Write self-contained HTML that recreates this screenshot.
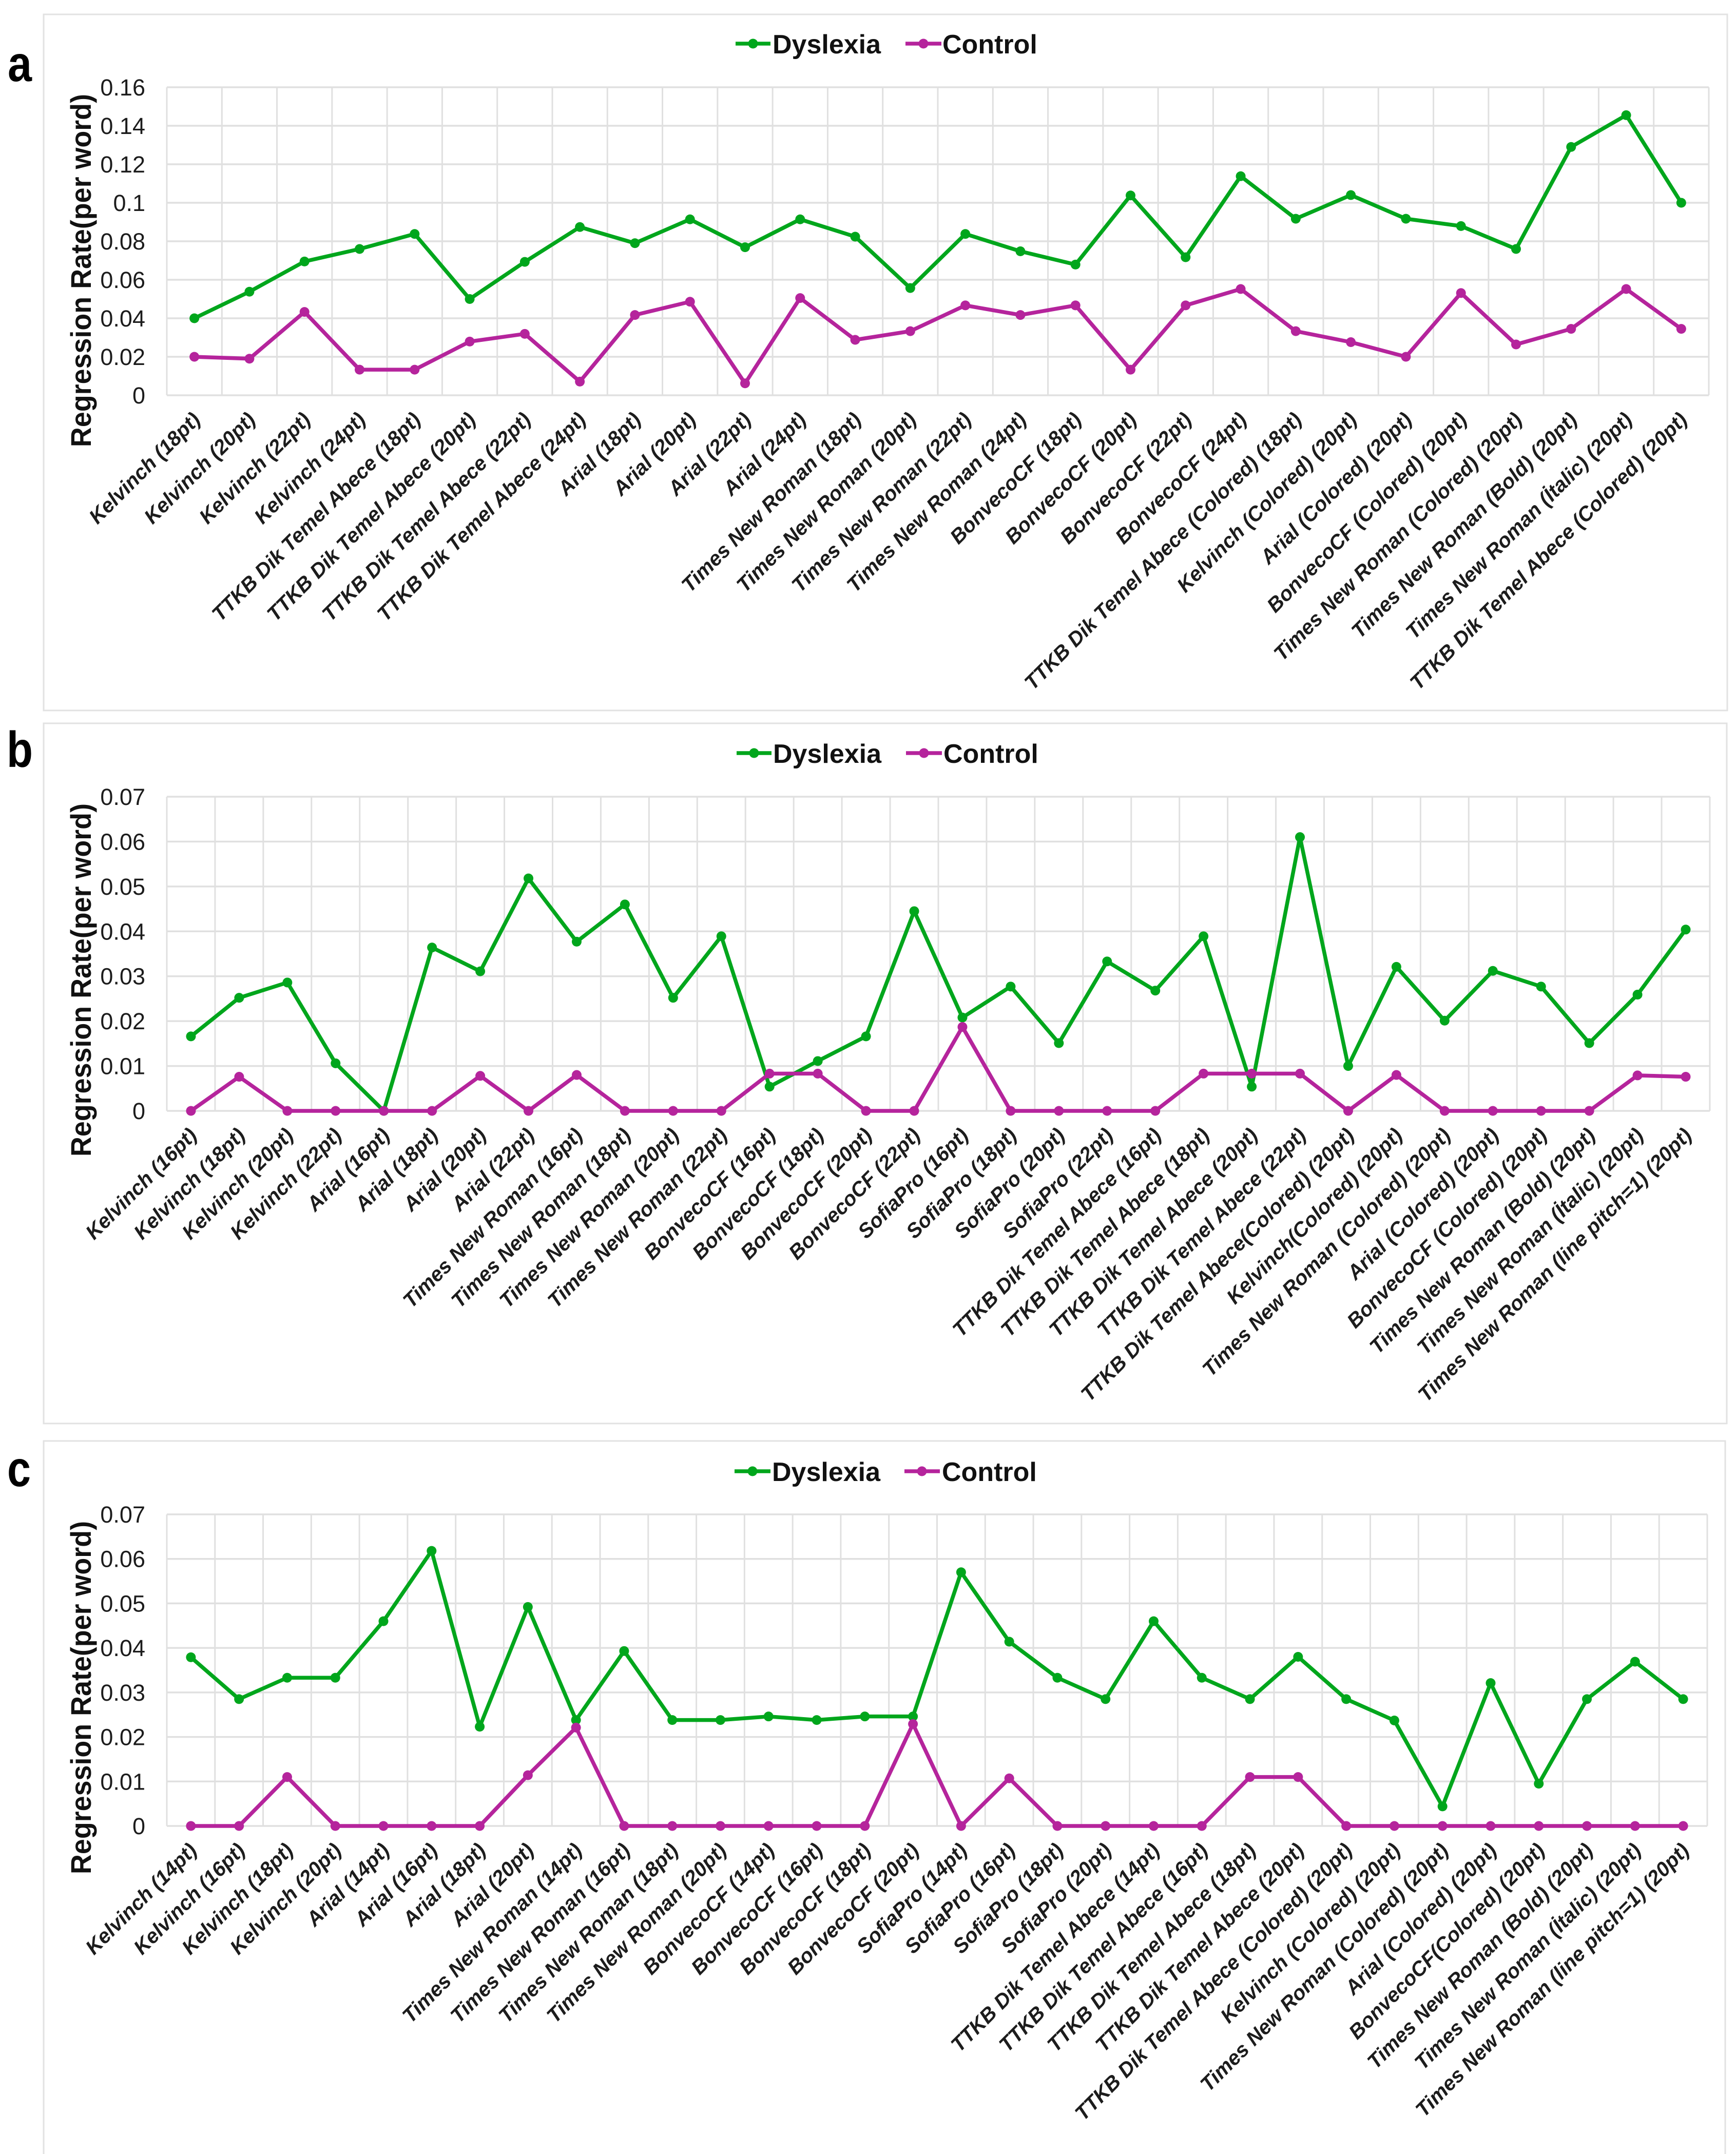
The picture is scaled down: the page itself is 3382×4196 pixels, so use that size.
<!DOCTYPE html>
<html lang="en">
<head>
<meta charset="utf-8">
<title>Regression rate per word by font: Dyslexia vs Control</title>
<style>
html,body{margin:0;padding:0;background:#fff;}
svg{display:block;font-family:"Liberation Sans",sans-serif;}
.frame{fill:#fff;stroke:#e2e2e2;stroke-width:3;}
.legend-text{font-size:52px;font-weight:700;fill:#111;}
.panel-letter{font-size:98px;font-weight:700;fill:#000;}
.y-title{font-size:56px;font-weight:700;fill:#111;}
.tick{font-size:45px;fill:#1c1c1c;}
.cat{font-size:40px;font-weight:700;font-style:italic;fill:#1c1c1c;}
</style>
</head>
<body>
<svg id="chart" xmlns="http://www.w3.org/2000/svg" width="3382" height="4196" viewBox="0 0 3382 4196">
  <rect x="0" y="0" width="3382" height="4196" fill="#fff"/>
  <rect class="frame" x="85" y="28" width="3280" height="1356"/>
  <rect class="frame" x="85" y="1409" width="3279" height="1364"/>
  <rect class="frame" x="85" y="2807" width="3276" height="1420"/>

  <text class="panel-letter" x="15" y="158" textLength="47" lengthAdjust="spacingAndGlyphs">a</text>
  <text class="panel-letter" x="13" y="1494" textLength="51" lengthAdjust="spacingAndGlyphs">b</text>
  <text class="panel-letter" x="14" y="2895" textLength="46" lengthAdjust="spacingAndGlyphs">c</text>

  <text class="y-title" transform="translate(177,527) rotate(-90)" text-anchor="middle" textLength="688" lengthAdjust="spacingAndGlyphs">Regression Rate(per word)</text>
  <text class="y-title" transform="translate(177,1909) rotate(-90)" text-anchor="middle" textLength="688" lengthAdjust="spacingAndGlyphs">Regression Rate(per word)</text>
  <text class="y-title" transform="translate(177,3307) rotate(-90)" text-anchor="middle" textLength="688" lengthAdjust="spacingAndGlyphs">Regression Rate(per word)</text>

  <g id="plots"></g>

  <g>
    <g>
      <line x1="1433" y1="85" x2="1501" y2="85" stroke="#00a61c" stroke-width="7.5"/>
      <circle cx="1467" cy="85" r="9.5" fill="#00a61c"/>
      <text class="legend-text" x="1505" y="104">Dyslexia</text>
    </g>
    <g>
      <line x1="1764" y1="85" x2="1834" y2="85" stroke="#b5249c" stroke-width="7.5"/>
      <circle cx="1799" cy="85" r="9.5" fill="#b5249c"/>
      <text class="legend-text" x="1836" y="104">Control</text>
    </g>
  </g>
  <g>
    <g>
      <line x1="1435" y1="1467" x2="1503" y2="1467" stroke="#00a61c" stroke-width="7.5"/>
      <circle cx="1469" cy="1467" r="9.5" fill="#00a61c"/>
      <text class="legend-text" x="1506" y="1486">Dyslexia</text>
    </g>
    <g>
      <line x1="1765" y1="1467" x2="1835" y2="1467" stroke="#b5249c" stroke-width="7.5"/>
      <circle cx="1800" cy="1467" r="9.5" fill="#b5249c"/>
      <text class="legend-text" x="1838" y="1486">Control</text>
    </g>
  </g>
  <g>
    <g>
      <line x1="1431" y1="2866" x2="1501" y2="2866" stroke="#00a61c" stroke-width="7.5"/>
      <circle cx="1466" cy="2866" r="9.5" fill="#00a61c"/>
      <text class="legend-text" x="1504" y="2885">Dyslexia</text>
    </g>
    <g>
      <line x1="1762" y1="2866" x2="1831" y2="2866" stroke="#b5249c" stroke-width="7.5"/>
      <circle cx="1796" cy="2866" r="9.5" fill="#b5249c"/>
      <text class="legend-text" x="1835" y="2885">Control</text>
    </g>
  </g>
</svg>
<script>
const categoriesA = ["Kelvinch (18pt)","Kelvinch (20pt)","Kelvinch (22pt)","Kelvinch (24pt)","TTKB Dik Temel Abece (18pt)","TTKB Dik Temel Abece (20pt)","TTKB Dik Temel Abece (22pt)","TTKB Dik Temel Abece (24pt)","Arial (18pt)","Arial (20pt)","Arial (22pt)","Arial (24pt)","Times New Roman (18pt)","Times New Roman (20pt)","Times New Roman (22pt)","Times New Roman (24pt)","BonvecoCF (18pt)","BonvecoCF (20pt)","BonvecoCF (22pt)","BonvecoCF (24pt)","TTKB Dik Temel Abece (Colored) (18pt)","Kelvinch (Colored) (20pt)","Arial (Colored) (20pt)","BonvecoCF (Colored) (20pt)","Times New Roman (Colored) (20pt)","Times New Roman (Bold) (20pt)","Times New Roman (İtalic) (20pt)","TTKB Dik Temel Abece (Colored) (20pt)"];
const dyslexiaA = [0.040,0.0538,0.0695,0.076,0.0838,0.050,0.0693,0.0874,0.079,0.0914,0.0769,0.0914,0.0824,0.0557,0.0838,0.0748,0.0679,0.1038,0.0717,0.1138,0.0917,0.104,0.0917,0.0879,0.076,0.129,0.1455,0.100];
const controlA = [0.020,0.019,0.0433,0.0133,0.0133,0.0279,0.0319,0.0071,0.0417,0.0486,0.0062,0.0505,0.0288,0.0333,0.0467,0.0417,0.0467,0.0133,0.0467,0.0552,0.0333,0.0276,0.020,0.0531,0.0264,0.0345,0.0552,0.0345];
const tickLabelsA = ["0","0.02","0.04","0.06","0.08","0.1","0.12","0.14","0.16"];

const categoriesB = ["Kelvinch (16pt)","Kelvinch (18pt)","Kelvinch (20pt)","Kelvinch (22pt)","Arial (16pt)","Arial (18pt)","Arial (20pt)","Arial (22pt)","Times New Roman (16pt)","Times New Roman (18pt)","Times New Roman (20pt)","Times New Roman (22pt)","BonvecoCF (16pt)","BonvecoCF (18pt)","BonvecoCF (20pt)","BonvecoCF (22pt)","SofiaPro (16pt)","SofiaPro (18pt)","SofiaPro (20pt)","SofiaPro (22pt)","TTKB Dik Temel Abece (16pt)","TTKB Dik Temel Abece (18pt)","TTKB Dik Temel Abece (20pt)","TTKB Dik Temel Abece (22pt)","TTKB Dik Temel Abece(Colored) (20pt)","Kelvinch(Colored) (20pt)","Times New Roman (Colored) (20pt)","Arial (Colored) (20pt)","BonvecoCF (Colored) (20pt)","Times New Roman (Bold) (20pt)","Times New Roman (İtalic) (20pt)","Times New Roman (line pitch=1) (20pt)"];
const dyslexiaB = [0.0166,0.0252,0.0286,0.0106,0,0.0364,0.0311,0.0518,0.0377,0.046,0.0252,0.0389,0.0054,0.0111,0.0166,0.0445,0.0208,0.0277,0.0151,0.0333,0.0268,0.0389,0.0054,0.061,0.010,0.0321,0.0201,0.0312,0.0277,0.0151,0.0259,0.0404];
const controlB = [0,0.0076,0,0,0,0,0.0078,0,0.008,0,0,0,0.0083,0.0083,0,0,0.0187,0,0,0,0,0.0083,0.0083,0.0083,0,0.008,0,0,0,0,0.0079,0.0076];
const tickLabelsB = ["0","0.01","0.02","0.03","0.04","0.05","0.06","0.07"];

const categoriesC = ["Kelvinch (14pt)","Kelvinch (16pt)","Kelvinch (18pt)","Kelvinch (20pt)","Arial (14pt)","Arial (16pt)","Arial (18pt)","Arial (20pt)","Times New Roman (14pt)","Times New Roman (16pt)","Times New Roman (18pt)","Times New Roman (20pt)","BonvecoCF (14pt)","BonvecoCF (16pt)","BonvecoCF (18pt)","BonvecoCF (20pt)","SofiaPro (14pt)","SofiaPro (16pt)","SofiaPro (18pt)","SofiaPro (20pt)","TTKB Dik Temel Abece (14pt)","TTKB Dik Temel Abece (16pt)","TTKB Dik Temel Abece (18pt)","TTKB Dik Temel Abece (20pt)","TTKB Dik Temel Abece (Colored) (20pt)","Kelvinch (Colored) (20pt)","Times New Roman (Colored) (20pt)","Arial (Colored) (20pt)","BonvecoCF(Colored) (20pt)","Times New Roman (Bold) (20pt)","Times New Roman (İtalic) (20pt)","Times New Roman (line pitch=1) (20pt)"];
const dyslexiaC = [0.0379,0.0285,0.0333,0.0333,0.046,0.0618,0.0223,0.0492,0.0238,0.0393,0.0238,0.0238,0.0246,0.0238,0.0246,0.0246,0.057,0.0414,0.0333,0.0285,0.046,0.0333,0.0285,0.038,0.0285,0.0237,0.0044,0.0321,0.0095,0.0285,0.0369,0.0285];
const controlC = [0,0,0.011,0,0,0,0,0.0114,0.0221,0,0,0,0,0,0,0.0229,0,0.0107,0,0,0,0,0.011,0.011,0,0,0,0,0,0,0,0];
const tickLabelsC = ["0","0.01","0.02","0.03","0.04","0.05","0.06","0.07"];

const SVG_NS = "http://www.w3.org/2000/svg";
const GREEN = "#00a61c";
const MAGENTA = "#b5249c";
const GRID = "#e0e0e0";

function drawPanel(id, categories, dyslexia, control, tickLabels, left, right, top, bottom) {
  const root = document.getElementById("plots");
  const g = document.createElementNS(SVG_NS, "g");
  
  
  root.appendChild(g);

  const ticks = tickLabels.map(Number);
  const yMax = Math.max.apply(null, ticks);
  const step = (right - left) / categories.length;
  const xEdge = function (i) { return left + i * step; };
  const xScale = function (i) { return left + (i + 0.5) * step; };
  const yScale = function (v) { return bottom - (v / yMax) * (bottom - top); };

  // horizontal gridlines and y tick labels
  tickLabels.forEach(function (label, i) {
    const y = yScale(ticks[i]);
    const line = document.createElementNS(SVG_NS, "line");
    line.setAttribute("x1", left);
    line.setAttribute("x2", right);
    line.setAttribute("y1", y);
    line.setAttribute("y2", y);
    line.setAttribute("stroke", GRID);
    line.setAttribute("stroke-width", "3.5");
    
    
    g.appendChild(line);

    const t = document.createElementNS(SVG_NS, "text");
    t.setAttribute("x", 283);
    t.setAttribute("y", y + 16);
    t.setAttribute("text-anchor", "end");
    t.setAttribute("class", "tick");
    
    
    t.textContent = label;
    g.appendChild(t);
  });

  // vertical gridlines
  for (let i = 0; i <= categories.length; i++) {
    const v = document.createElementNS(SVG_NS, "line");
    v.setAttribute("x1", xEdge(i));
    v.setAttribute("x2", xEdge(i));
    v.setAttribute("y1", top);
    v.setAttribute("y2", bottom);
    v.setAttribute("stroke", GRID);
    v.setAttribute("stroke-width", "3");
    
    
    g.appendChild(v);
  }

  // category labels
  categories.forEach(function (label, i) {
    const t = document.createElementNS(SVG_NS, "text");
    const ax = xScale(i) + 14;
    const ay = bottom + 50;
    t.setAttribute("transform", "translate(" + ax + "," + ay + ") rotate(-45)");
    t.setAttribute("text-anchor", "end");
    t.setAttribute("class", "cat");
    
    
    t.textContent = label;
    g.appendChild(t);
  });

  // series
  drawSeries(g, "dyslexia", dyslexia, GREEN, xScale, yScale);
  drawSeries(g, "control", control, MAGENTA, xScale, yScale);
}

function drawSeries(g, name, values, color, xScale, yScale) {
  const line = document.createElementNS(SVG_NS, "polyline");
  const pts = values.map(function (v, i) { return xScale(i) + "," + yScale(v); }).join(" ");
  line.setAttribute("points", pts);
  line.setAttribute("fill", "none");
  line.setAttribute("stroke", color);
  line.setAttribute("stroke-width", "7.5");
  line.setAttribute("stroke-linejoin", "round");
  
  
  g.appendChild(line);

  values.forEach(function (v, i) {
    const c = document.createElementNS(SVG_NS, "circle");
    c.setAttribute("cx", xScale(i));
    c.setAttribute("cy", yScale(v));
    c.setAttribute("r", "9.5");
    c.setAttribute("fill", color);
    
    
    g.appendChild(c);
  });
}

drawPanel("a", categoriesA, dyslexiaA, controlA, tickLabelsA, 325, 3329, 170, 770);
drawPanel("b", categoriesB, dyslexiaB, controlB, tickLabelsB, 325, 3331, 1552, 2164);
drawPanel("c", categoriesC, dyslexiaC, controlC, tickLabelsC, 325, 3326, 2950, 3557);
</script>
</body>
</html>
